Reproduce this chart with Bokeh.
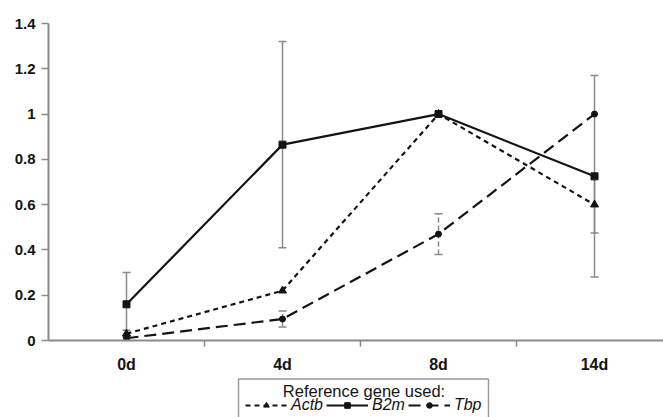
from bokeh.plotting import figure
from bokeh.layouts import column
from bokeh.models import (Range1d, FixedTicker, CustomJSTickFormatter, Legend, LegendItem,
                          ColumnDataSource, Whisker, TeeHead, Label)
from bokeh.embed import file_html
from bokeh.resources import INLINE

days = ["0d", "4d", "8d", "14d"]
actb = [0.03, 0.22, 1.0, 0.60]
b2m = [0.16, 0.865, 1.0, 0.725]
tbp = [0.01, 0.095, 0.47, 1.0]
actb_err = [0.015, 0.0, 0.0, 0.125]
b2m_err = [0.14, 0.455, 0.0, 0.445]
tbp_err = [0.0, 0.035, 0.09, 0.0]
y_ticks = [0, 0.2, 0.4, 0.6, 0.8, 1.0, 1.2, 1.4]
series_names = ["Actb", "B2m", "Tbp"]
legend_title = "Reference gene used:"

FONT = "Liberation Sans"
AXIS_C = "#8a8a8a"
INK = "#141414"

styles = {
    "Actb": dict(dash="5 4", marker="triangle", size=8),
    "B2m": dict(dash="solid", marker="square", size=7),
    "Tbp": dict(dash="12 6", marker="circle", size=6),
}

xs = [i + 0.5 for i in range(len(days))]

W = 663
H1 = 377
H2 = 40
LEFT = 48

p = figure(width=W, height=H1, output_backend="svg", toolbar_location=None,
           x_range=Range1d(0, (W - LEFT) / 156), y_range=Range1d(0, 1.4),
           min_border_left=LEFT, min_border_right=0, min_border_top=23, min_border_bottom=37)
p.outline_line_color = None
p.grid.visible = False

# axes
xa = p.xaxis[0]
xa.ticker = FixedTicker(ticks=xs, minor_ticks=[1, 2, 3])
xa.major_label_overrides = {x: d for x, d in zip(xs, days)}
xa.major_tick_line_color = None
xa.major_tick_out = 0
xa.major_tick_in = 0
xa.minor_tick_out = 6
xa.minor_tick_in = 0
xa.minor_tick_line_color = AXIS_C
xa.minor_tick_line_width = 1.5
xa.axis_line_color = AXIS_C
xa.axis_line_width = 2
xa.major_label_text_font = FONT
xa.major_label_text_font_style = "bold"
xa.major_label_text_font_size = "16px"
xa.major_label_text_color = INK
xa.major_label_standoff = 9

ya = p.yaxis[0]
ya.ticker = FixedTicker(ticks=y_ticks, minor_ticks=[])
ya.formatter = CustomJSTickFormatter(code="return tick.toFixed(1).replace(/\\.0$/, '');")
ya.major_tick_out = 7
ya.major_tick_in = 0
ya.major_tick_line_color = AXIS_C
ya.major_tick_line_width = 1.5
ya.minor_tick_line_color = None
ya.axis_line_color = AXIS_C
ya.axis_line_width = 2
ya.major_label_text_font = FONT
ya.major_label_text_font_style = "bold"
ya.major_label_text_font_size = "15px"
ya.major_label_text_color = INK
ya.major_label_standoff = 6

# error bars
def add_err(vals, errs, dash):
    sel = [i for i, e in enumerate(errs) if e > 0]
    src = ColumnDataSource(dict(x=[xs[i] for i in sel],
                                lo=[vals[i] - errs[i] for i in sel],
                                hi=[vals[i] + errs[i] for i in sel]))
    w = Whisker(source=src, base="x", upper="hi", lower="lo",
                line_color=AXIS_C, line_width=1.5, line_dash=dash,
                upper_head=TeeHead(size=8, line_color=AXIS_C, line_width=1.5),
                lower_head=TeeHead(size=8, line_color=AXIS_C, line_width=1.5))
    p.add_layout(w)

add_err(b2m, b2m_err, "solid")
add_err(actb, actb_err, "solid")
add_err(tbp, tbp_err, "5 3")

# series
for name, vals in zip(series_names, [actb, b2m, tbp]):
    st = styles[name]
    p.line(xs, vals, line_color=INK, line_width=2.2, line_dash=st["dash"])
    p.scatter(xs, vals, marker=st["marker"], size=st["size"], color=INK)

# legend strip (second figure; its x range maps 1:1 to page pixels)
p2 = figure(width=W, height=H2, output_backend="svg", toolbar_location=None,
            x_range=Range1d(LEFT, W), y_range=Range1d(0, H2),
            x_axis_location=None, y_axis_location=None,
            min_border_left=LEFT, min_border_right=0,
            min_border_top=0, min_border_bottom=0)
p2.outline_line_color = None
p2.grid.visible = False

box_l, box_r = 238, 488
p2.quad(left=[box_l], right=[box_r], top=[H2 - 1.5], bottom=[-6],
        fill_color="white", line_color="#9a9a9a", line_width=1.5)
p2.add_layout(Label(x=(box_l + box_r) / 2 + 0.5, y=H2 - 13, text=legend_title,
                    text_align="center", text_baseline="middle",
                    text_font=FONT, text_font_size="16.5px", text_color=INK))

nan = float("nan")
items = []
for name in series_names:
    st = styles[name]
    lr = p2.line([nan], [nan], line_color=INK, line_width=2.2, line_dash=st["dash"])
    mr = p2.scatter([nan], [nan], marker=st["marker"], size=st["size"], color=INK)
    items.append(LegendItem(label=name, renderers=[lr, mr]))

legend = Legend(items=items, location=(245 - LEFT, 3), orientation="horizontal",
                label_text_font=FONT, label_text_font_style="italic",
                label_text_font_size="16px", label_text_color=INK,
                label_standoff=4, label_height=14, glyph_height=14, glyph_width=42,
                spacing=3, padding=0, margin=0,
                border_line_color=None, background_fill_alpha=0)
p2.add_layout(legend, "center")

open("out.html", "w").write(file_html(column(p, p2, spacing=0), INLINE))
